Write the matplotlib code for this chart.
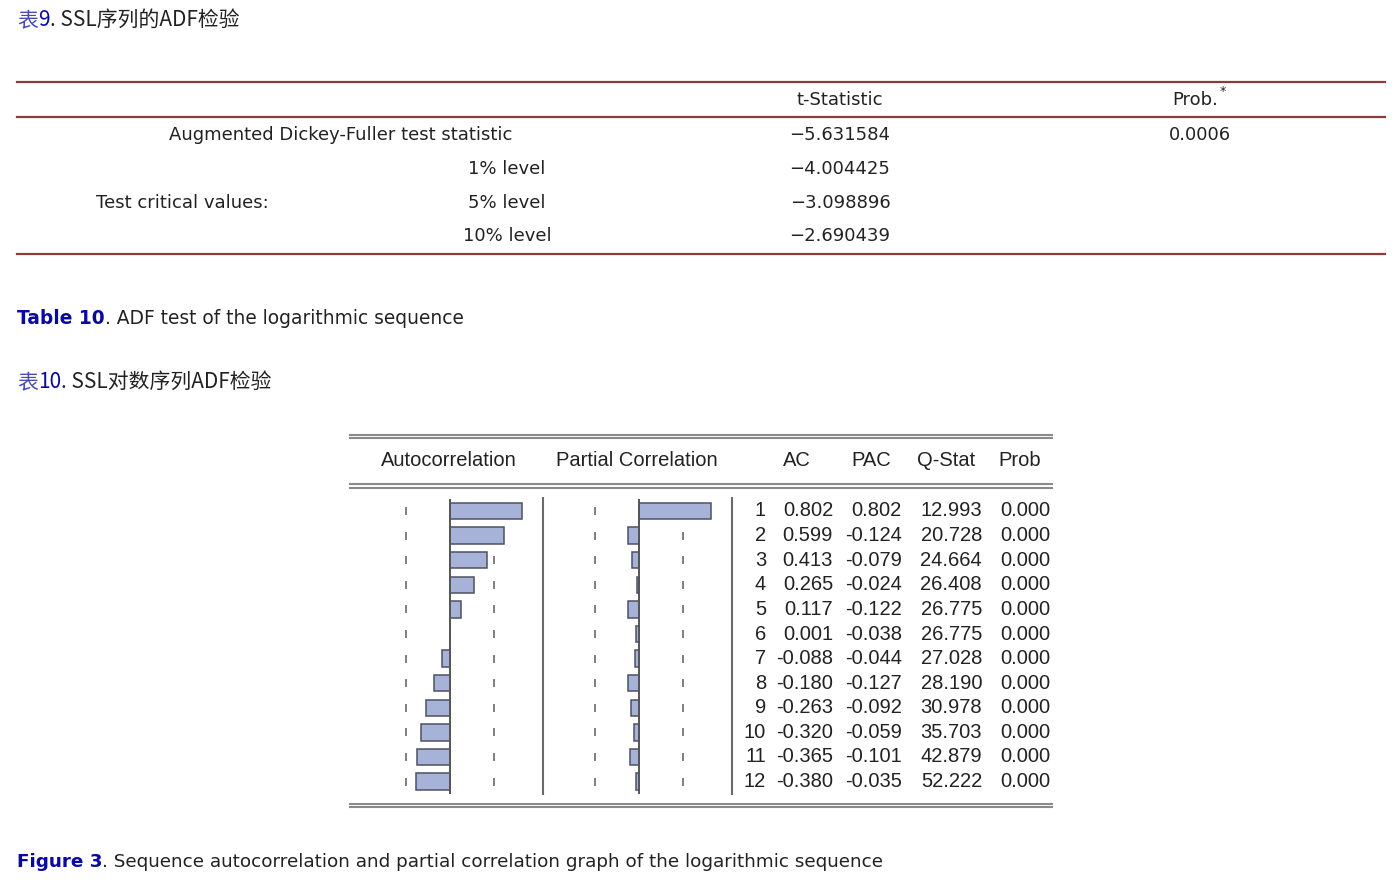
import numpy as np
import matplotlib
matplotlib.use('Agg')
import matplotlib.pyplot as plt

W, H = 1395, 883

# ---- table 9 / 10 data ----
adf_labels = ['Augmented Dickey-Fuller test statistic', '1% level', '5% level', '10% level']
adf_tstat = ['\u22125.631584', '\u22124.004425', '\u22123.098896', '\u22122.690439']
adf_prob = '0.0006'

# ---- figure 3 data (correlogram) ----
lags = np.arange(1, 13)
ac = [0.802, 0.599, 0.413, 0.265, 0.117, 0.001, -0.088, -0.180, -0.263, -0.320, -0.365, -0.380]
pac = [0.802, -0.124, -0.079, -0.024, -0.122, -0.038, -0.044, -0.127, -0.092, -0.059, -0.101, -0.035]
qstat = [12.993, 20.728, 24.664, 26.408, 26.775, 26.775, 27.028, 28.190, 30.978, 35.703, 42.879, 52.222]
prob = [0.000, 0.000, 0.000, 0.000, 0.000, 0.000, 0.000, 0.000, 0.000, 0.000, 0.000, 0.000]
band = 0.49   # dashed confidence bounds

PAGE = ['DejaVu Sans']
CJK = ['Noto Sans CJK SC', 'DejaVu Sans']
FIG = ['Liberation Sans', 'DejaVu Sans']
TXT = '#222222'
BLUE = '#0a0aa0'
RED = '#8c3b3b'

fig = plt.figure(figsize=(W / 100, H / 100), dpi=100)
ax = fig.add_axes([0, 0, 1, 1])
ax.set_xlim(0, W)
ax.set_ylim(H, 0)
ax.axis('off')
rend = fig.canvas.get_renderer()


def seq_text(x, y, parts, size, family):
    # put coloured pieces of one caption side by side
    for s, col, wt in parts:
        t = ax.text(x, y, s, color=col, fontweight=wt, fontsize=size,
                    family=family, va='center', ha='left')
        x += t.get_window_extent(renderer=rend).width


###### TABLE 9 ########
seq_text(17, 20, [('\u8868', '#4a4ab0', 'normal'), ('9', BLUE, 'normal'),
                  ('. SSL\u5e8f\u5217\u7684ADF\u68c0\u9a8c', TXT, 'normal')], 15, CJK)

for yy in [82, 117, 254]:
    ax.plot([17, 1385], [yy, yy], color=RED, lw=1.6)

ax.text(840, 100, 't-Statistic', ha='center', va='center', fontsize=13, family=PAGE, color=TXT)
ax.text(1195, 100, 'Prob.', ha='center', va='center', fontsize=13, family=PAGE, color=TXT)
ax.text(1223, 91, '*', ha='center', va='center', fontsize=9, family=PAGE, color=TXT)

row_y = [135, 169, 203, 236]
ax.text(341, row_y[0], adf_labels[0], ha='center', va='center', fontsize=13, family=PAGE, color=TXT)
for i in range(1, 4):
    ax.text(507, row_y[i], adf_labels[i], ha='center', va='center', fontsize=13, family=PAGE, color=TXT)
ax.text(182, row_y[2], 'Test critical values:', ha='center', va='center', fontsize=13, family=PAGE, color=TXT)
for i in range(4):
    ax.text(840, row_y[i], adf_tstat[i], ha='center', va='center', fontsize=13, family=PAGE, color=TXT)
ax.text(1200, row_y[0], adf_prob, ha='center', va='center', fontsize=13, family=PAGE, color=TXT)

###### CAPTIONS ########
seq_text(17, 318, [('Table 10', BLUE, 'bold'),
                   ('. ADF test of the logarithmic sequence', TXT, 'normal')], 13.4, PAGE)
seq_text(17, 382, [('\u8868', '#4a4ab0', 'normal'), ('10', BLUE, 'normal'),
                   ('. SSL\u5bf9\u6570\u5e8f\u5217ADF\u68c0\u9a8c', TXT, 'normal')], 15, CJK)
seq_text(17, 862, [('Figure 3', BLUE, 'bold'),
                   ('. Sequence autocorrelation and partial correlation graph of the logarithmic sequence',
                    TXT, 'normal')], 13.25, PAGE)

###### FIGURE 3: correlogram ########
GRAY = '#8a8a8a'
for yy in [434.5, 438, 484, 487.5, 803.5, 807]:
    ax.plot([350, 1052], [yy, yy], color=GRAY, lw=1.5)

hdr = [('Autocorrelation', 449), ('Partial Correlation', 637), ('AC', 797),
       ('PAC', 871), ('Q-Stat', 946), ('Prob', 1020)]
for s, xx in hdr:
    ax.text(xx, 461, s, ha='center', va='center', fontsize=14.5, family=FIG, color=TXT)

ax.vlines([543, 732], 497, 795, color='#6a6a6a', lw=1.5)

row0, step = 511, 24.6
top = row0 - step / 2
bot = row0 + 11 * step + step / 2
scale = 90.0  # px per unit correlation


def corr_panel(x0, vals):
    a = fig.add_axes([(x0 - scale) / W, (H - bot) / H, 2 * scale / W, (bot - top) / H])
    a.set_xlim(-1, 1)
    a.set_ylim(12.5, 0.5)
    a.axis('off')
    for b in (-band, band):
        a.vlines(np.full(len(lags), b), lags - 0.16, lags + 0.16, color='#6a6a6a', lw=1.2, zorder=1)
    a.barh(lags, vals, height=0.66, color='#a6b2d8', edgecolor='#4d5262', lw=1.1, zorder=2)
    a.axvline(0, color='#555555', lw=1.4, zorder=3)
    return a


corr_panel(450, ac)
corr_panel(639, pac)

for i, lag in enumerate(lags):
    yy = row0 + i * step
    ax.text(766, yy, str(lag), ha='right', va='center', fontsize=14.5, family=FIG, color=TXT)
    ax.text(833, yy, f'{ac[i]:.3f}', ha='right', va='center', fontsize=14.5, family=FIG, color=TXT)
    ax.text(902, yy, f'{pac[i]:.3f}', ha='right', va='center', fontsize=14.5, family=FIG, color=TXT)
    ax.text(982, yy, f'{qstat[i]:.3f}', ha='right', va='center', fontsize=14.5, family=FIG, color=TXT)
    ax.text(1050, yy, f'{prob[i]:.3f}', ha='right', va='center', fontsize=14.5, family=FIG, color=TXT)

plt.savefig('out.png', dpi=100)
